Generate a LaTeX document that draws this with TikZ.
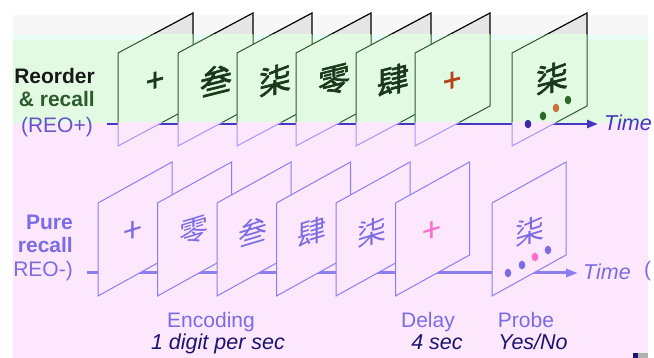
\documentclass[tikz,border=0pt]{standalone}
\usepackage{fontspec}
\setmainfont{Liberation Sans}
\newfontfamily\cjk{Noto Sans CJK SC}
\newfontfamily\cjkbold{Noto Sans CJK SC}[FakeBold=2]
\usetikzlibrary{arrows.meta}

\definecolor{bandgray}{HTML}{F7F7F7}
\definecolor{bandcyan}{HTML}{E8FDF6}
\definecolor{bggreen}{HTML}{E2FAE2}
\definecolor{bgpink}{HTML}{FCE7FC}
\definecolor{panelgray}{HTML}{E6E6E6}
\definecolor{topline}{HTML}{2E5A2E}
\definecolor{topglyph}{HTML}{1A381A}
\definecolor{topaxis}{HTML}{4636C0}
\definecolor{lowline}{HTML}{8C7EF0}
\definecolor{lowtext}{HTML}{7C6CE4}
\definecolor{hotpink}{HTML}{FF6ACD}
\definecolor{navy}{HTML}{1C1470}
\definecolor{rust}{HTML}{B4441A}
\definecolor{dotgreen}{HTML}{2C6A2C}
\definecolor{dotorange}{HTML}{C8703A}
\definecolor{dotnavy}{HTML}{3A2AA8}

% one row of top-level slides, drawn with the given look
\newcommand\reoslides[1]{%
  \foreach \sx in {118,178,237,296,356,415,512}
    {\path[#1] (\sx,53) -- ++(75,-40) -- ++(0,93) -- ++(-75,40) -- cycle;}}

\tikzset{
  lbl/.style={font=\fontsize{21}{23}\selectfont, inner sep=0pt},
  lblb/.style={lbl, font=\bfseries\fontsize{21}{23}\selectfont},
  lbli/.style={lbl, font=\itshape\fontsize{21.5}{23}\selectfont},
  lowslide/.style={fill=bgpink, draw=lowline, line width=1pt},
  glyph/.pic={\node[transform shape, yslant=0.3, inner sep=0pt,
      font=\cjk\fontsize{#1}{#1}\selectfont] (-g) {\tikzpictext};},
  boldglyph/.pic={\node[transform shape, yslant=0.25, inner sep=0pt,
      font=\cjkbold\fontsize{#1}{#1}\selectfont] (-g) {\tikzpictext};},
}

\begin{document}
\begin{tikzpicture}[x=1pt,y=-1pt]
\useasboundingbox (0,0) rectangle (654,358);

% background bands
\fill[bandgray] (13,15) rectangle (648,35);
\fill[bandcyan] (13,35) rectangle (648,40);
\fill[bggreen]  (13,40) rectangle (648,123);
\fill[bgpink]   (13,123) rectangle (648,358);
\fill[navy] (633,353) rectangle (638,358);
\fill[gray!60] (638,353) rectangle (648,358);

% ---------- reorder & recall row ----------
\coordinate (ta0) at (107,124);
\coordinate (ta1) at (598,124);
\draw[topaxis, line width=2.5pt, -{Triangle[length=11pt,width=8pt]}] (ta0) -- (ta1);

\begin{scope}
  \clip (0,0) rectangle (654,35);
  \reoslides{fill=panelgray, draw=black, line width=1.2pt}
\end{scope}
\begin{scope}
  \clip (0,35) rectangle (654,123);
  \reoslides{fill=bggreen, draw=topline, line width=1pt}
\end{scope}
\begin{scope}
  \clip (0,123) rectangle (654,358);
  \reoslides{fill=bgpink, draw=lowline!80, line width=1pt}
\end{scope}

\pic[color=topglyph, pic text={+}]  (t1) at (155,82) {boldglyph=32};
\pic[color=topglyph, pic text={叁}] (t2) at (216,80) {boldglyph=32};
\pic[color=topglyph, pic text={柒}] (t3) at (275,80) {boldglyph=32};
\pic[color=topglyph, pic text={零}] (t4) at (334,80) {boldglyph=32};
\pic[color=topglyph, pic text={肆}] (t5) at (393,80) {boldglyph=32};
\pic[color=rust,     pic text={+}]  (t6) at (452,82) {boldglyph=32};
\pic[color=topglyph, pic text={柒}] (t7) at (552,78) {boldglyph=32};

\fill[dotnavy]   (528,124) ellipse [x radius=3.3, y radius=4.3];
\fill[dotgreen]  (543,116) ellipse [x radius=3.3, y radius=4.3];
\fill[dotorange] (556,108) ellipse [x radius=3.3, y radius=4.3];
\fill[dotgreen]  (568,100) ellipse [x radius=3.3, y radius=4.3];

\node[lblb, anchor=base east, text=black!90] (reo1) at (95,84) {Reorder};
\node[lblb, anchor=base east, text=topline] (reo2) at (95,107) {\& recall};
\node[lbl, anchor=base east, text=topaxis!85] (reo3) at (93,133) {(REO+)};
\node[lbli, anchor=base west, text=topaxis] (time1) at (604,131) {Time};

% ---------- pure recall row ----------
\coordinate (la0) at (87,273);
\coordinate (la1) at (578,273);
\draw[lowline, line width=3pt, -{Triangle[length=12pt,width=8pt]}] (la0) -- (la1);

\foreach \sx in {98,157.5,217,276.5,336,395.5,492}
  {\path[lowslide] (\sx,203) -- ++(74,-41) -- ++(0,93) -- ++(-74,41) -- cycle;}

\pic[color=lowtext, pic text={+}]  (l1) at (133,232) {glyph=34};
\pic[color=lowtext, pic text={零}] (l2) at (194,231) {glyph=29};
\pic[color=lowtext, pic text={叁}] (l3) at (253,232) {glyph=29};
\pic[color=lowtext, pic text={肆}] (l4) at (312,232) {glyph=29};
\pic[color=lowtext, pic text={柒}] (l5) at (372,232) {glyph=29};
\pic[color=hotpink, pic text={+}]  (l6) at (432,232) {glyph=34};
\pic[color=lowtext, pic text={柒}] (l7) at (530,231) {glyph=29};

\fill[lowtext] (508,273) ellipse [x radius=3.3, y radius=4.3];
\fill[lowtext] (522,265) ellipse [x radius=3.3, y radius=4.3];
\fill[hotpink] (535,257) ellipse [x radius=3.3, y radius=4.3];
\fill[lowtext] (548,250) ellipse [x radius=3.3, y radius=4.3];

\node[lblb, anchor=base east, text=lowtext] (pr1) at (73,230) {Pure};
\node[lblb, anchor=base east, text=lowtext] (pr2) at (73,253) {recall};
\node[lbl, anchor=base east, text=lowtext] (pr3) at (73,277) {REO-)};
\node[lbli, anchor=base west, text=lowtext] (time2) at (583,280) {Time};
\node[lbl, anchor=base west, text=lowtext] (paren) at (644,277) {(};

% phase captions
\node[lbl, anchor=base, text=lowtext] (enc) at (211,328) {Encoding};
\node[lbli, anchor=base, text=navy] (enc2) at (218,350) {1 digit per sec};
\node[lbl, anchor=base, text=lowtext] (del) at (428,328) {Delay};
\node[lbli, anchor=base, text=navy] (del2) at (437,350) {4 sec};
\node[lbl, anchor=base, text=lowtext] (prb) at (526,328) {Probe};
\node[lbli, anchor=base, text=navy] (prb2) at (533,350) {Yes/No};
\end{tikzpicture}
\end{document}
